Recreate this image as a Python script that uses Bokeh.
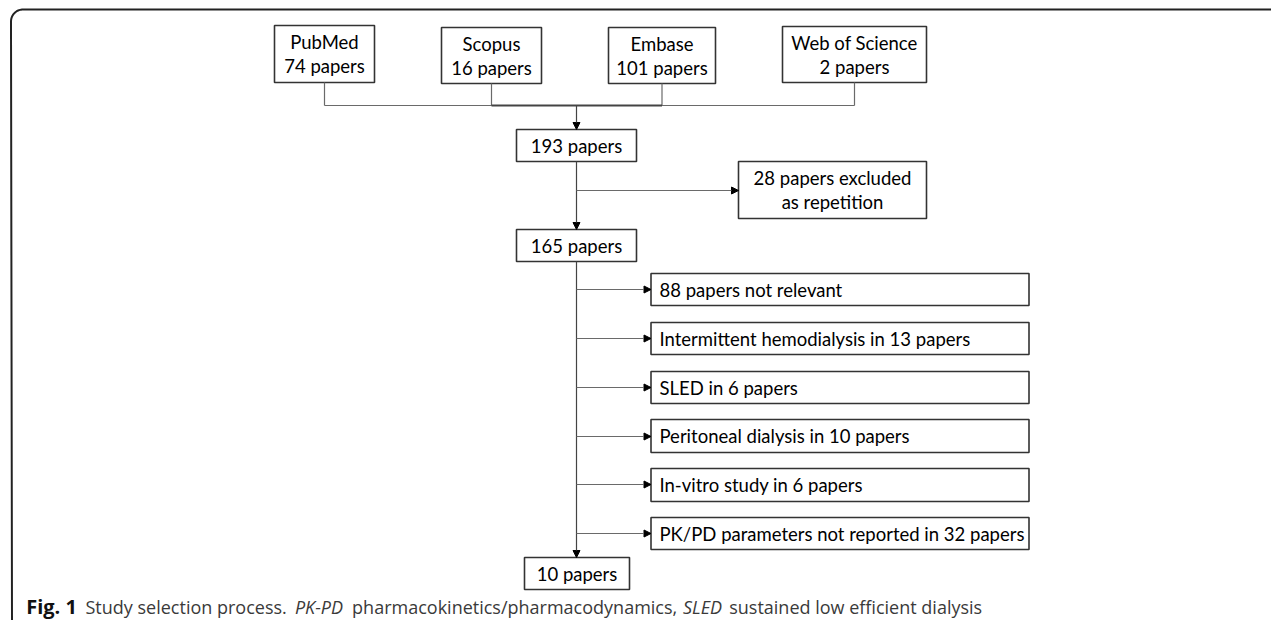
import numpy as np
from bokeh.plotting import figure
from bokeh.models import Range1d, ColumnDataSource, Arrow, NormalHead
from bokeh.core.properties import value
from bokeh.embed import file_html
from bokeh.resources import INLINE

# ---------------- data ----------------
sources = ["PubMed", "Scopus", "Embase", "Web of Science"]
source_counts = [74, 16, 101, 2]
identified_total = 193
duplicates_removed = 28
after_dedup = 165
exclusion_reasons = ["not relevant", "Intermittent hemodialysis", "SLED",
                     "Peritoneal dialysis", "In-vitro study",
                     "PK/PD parameters not reported"]
exclusion_counts = [88, 13, 6, 10, 6, 32]
included_total = 10
caption_parts = ["Fig. 1", "Study selection process.", "PK-PD",
                 "pharmacokinetics/pharmacodynamics,", "SLED",
                 "sustained low efficient dialysis"]
caption_styles = ["bold", "normal", "italic", "normal", "italic", "normal"]

# ---------------- layout (pixel coordinates) ----------------
W, H = 1271, 620
p = figure(width=W, height=H, output_backend="svg", toolbar_location=None,
           x_range=Range1d(0, W), y_range=Range1d(H, 0),
           x_axis_location=None, y_axis_location=None, min_border=0,
           outline_line_color=None, background_fill_color="white")
p.grid.visible = False

BOX_LINE = "#333333"
CONN = "#6a6a6a"
FONT = value("Lato")
FS = value("18.5px")

# frame: top + left with rounded corners
r = 12
t1 = np.linspace(np.pi / 2, np.pi, 20)
t2 = np.linspace(np.pi, 1.5 * np.pi, 20)
fx = [W + 5] + list(10.5 + r + r * np.cos(t1)) + list(11.5 + r + r * np.cos(t2))
fy = [9] + list(9 + r - r * np.sin(t1)) + list(622 - r * np.sin(t2))
p.line(fx, fy, line_color="#222222", line_width=2)

# source boxes
src_l = [274, 441, 608, 782]
src_r = [374, 541, 715, 926]
src_t = [25, 27, 27, 26]
src_b = [82, 83, 83, 82]
src_cx = [(a + b) / 2 for a, b in zip(src_l, src_r)]
src_mid = [(a + b) / 2 for a, b in zip(src_t, src_b)]
p.quad(left=src_l, right=src_r, top=src_t, bottom=src_b,
       fill_color="white", line_color=BOX_LINE, line_width=1.6)
p.text(x=src_cx, y=[m - 12 for m in src_mid], text=sources,
       text_align="center", text_baseline="middle", text_font=FONT,
       text_font_size=FS, text_color="black")
p.text(x=src_cx, y=[m + 12 for m in src_mid],
       text=[f"{n} papers" for n in source_counts],
       text_align="center", text_baseline="middle", text_font=FONT,
       text_font_size=FS, text_color="black")

# connectors from sources
JOIN_Y = 105
STEM_X = 576
p.segment(x0=src_cx, y0=src_b, x1=src_cx, y1=[JOIN_Y] * 4,
          line_color=CONN, line_width=1.2)
p.segment(x0=[src_cx[0]], y0=[JOIN_Y], x1=[src_cx[3]], y1=[JOIN_Y],
          line_color=CONN, line_width=1.2)
p.segment(x0=[src_cx[1]], y0=[JOIN_Y], x1=[src_cx[2]], y1=[JOIN_Y],
          line_color="#444444", line_width=2)

# main column boxes
main_vals = [identified_total, after_dedup, included_total]
main_l = [516, 516, 524]
main_r = [636, 636, 629]
main_t = [129, 229, 557]
main_b = [161, 261, 589]
p.quad(left=main_l, right=main_r, top=main_t, bottom=main_b,
       fill_color="white", line_color=BOX_LINE, line_width=1.6)
p.text(x=[(a + b) / 2 for a, b in zip(main_l, main_r)],
       y=[(a + b) / 2 for a, b in zip(main_t, main_b)],
       text=[f"{v} papers" for v in main_vals],
       text_align="center", text_baseline="middle", text_font=FONT,
       text_font_size=FS, text_color="black")

# duplicates box
dup_l, dup_r, dup_t, dup_b = 738, 926, 161, 218
p.quad(left=[dup_l], right=[dup_r], top=[dup_t], bottom=[dup_b],
       fill_color="white", line_color=BOX_LINE, line_width=1.6)
p.text(x=[(dup_l + dup_r) / 2] * 2, y=[177, 201],
       text=[f"{duplicates_removed} papers excluded", "as repetition"],
       text_align="center", text_baseline="middle", text_font=FONT,
       text_font_size=FS, text_color="black")

# exclusion boxes
ex_l, ex_r = 650.5, 1028.5
ex_t = [273, 322, 371, 419, 468, 517]
ex_b = [305, 354, 403, 452, 501, 549]
ex_branch = [289, 338, 387, 436, 484, 533]
ex_labels = [f"{exclusion_counts[0]} papers {exclusion_reasons[0]}"] + \
    [f"{rsn} in {n} papers" for rsn, n in zip(exclusion_reasons[1:], exclusion_counts[1:])]
p.quad(left=[ex_l] * 6, right=[ex_r] * 6, top=ex_t, bottom=ex_b,
       fill_color="white", line_color=BOX_LINE, line_width=1.6)
p.text(x=[659] * 6, y=[(a + b) / 2 for a, b in zip(ex_t, ex_b)], text=ex_labels,
       text_align="left", text_baseline="middle", text_font=FONT,
       text_font_size=FS, text_color="black")

# arrows
head = lambda: NormalHead(size=7, fill_color="black", line_color="black", line_width=1)
down_src = ColumnDataSource(dict(x0=[STEM_X] * 3, y0=[JOIN_Y, 161, 261],
                                 x1=[STEM_X] * 3, y1=[129, 229, 557]))
p.add_layout(Arrow(end=head(), x_start="x0", y_start="y0", x_end="x1", y_end="y1",
                   source=down_src, line_color="#444444", line_width=1.2))
br_src = ColumnDataSource(dict(x0=[STEM_X] * 7, y0=[190] + ex_branch,
                               x1=[dup_l] + [ex_l] * 6, y1=[190] + ex_branch))
p.add_layout(Arrow(end=head(), x_start="x0", y_start="y0", x_end="x1", y_end="y1",
                   source=br_src, line_color=CONN, line_width=1.2))

# caption
cap_x = [25.7, 85, 294.4, 351.6, 682.5, 728.7]
for txt, sty, x in zip(caption_parts, caption_styles, cap_x):
    p.text(x=[x], y=[606], text=[txt], text_align="left", text_baseline="middle",
           text_font=value("Open Sans"),
           text_font_size=value("20px" if sty == "bold" else "18px"),
           text_font_style=sty,
           text_color="#111111" if sty == "bold" else "#3a3a3a")

open("out.html", "w").write(file_html(p, INLINE))
